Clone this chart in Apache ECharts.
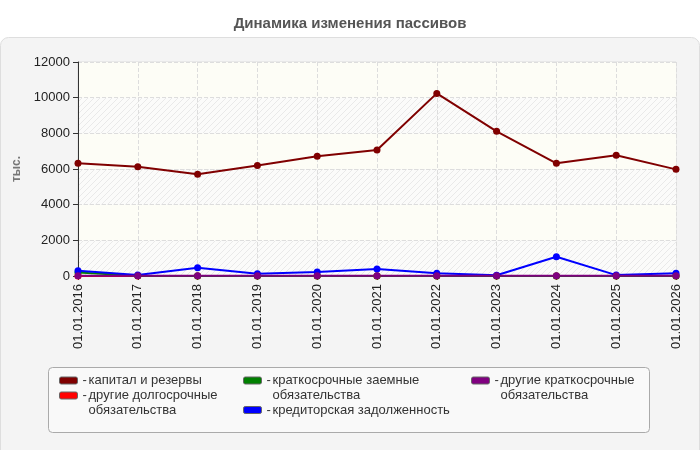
<!DOCTYPE html>
<html>
<head>
<meta charset="utf-8">
<script src="https://cdn.jsdelivr.net/npm/echarts@6/dist/echarts.min.js"></script>
<style>
html, body { margin: 0; padding: 0; background: #fff; }
#chart { width: 700px; height: 450px; }
</style>
</head>
<body>
<div id="chart"></div>
<script>
// values (тыс.)
var dates = ['01.01.2016', '01.01.2017', '01.01.2018', '01.01.2019', '01.01.2020', '01.01.2021',
  '01.01.2022', '01.01.2023', '01.01.2024', '01.01.2025', '01.01.2026'];
var capital    = [6320, 6130, 5700, 6200, 6710, 7060, 10240, 8110, 6320, 6770, 5980];
var otherLong  = [0, 0, 0, 0, 0, 0, 0, 0, 0, 0, 0];
var shortLoans = [190, 20, 0, 0, 0, 0, 0, 0, 0, 0, 0];
var payables   = [300, 60, 460, 120, 230, 390, 150, 40, 1080, 50, 150];
var otherShort = [20, 20, 20, 20, 20, 20, 20, 20, 20, 20, 20];
var yMin = 0, yMax = 12000, yStep = 2000;

var names = ['капитал и резервы', 'другие долгосрочные обязательства', 'краткосрочные заемные обязательства',
  'кредиторская задолженность', 'другие краткосрочные обязательства'];
var colors = ['#800000', '#ff0000', '#008000', '#0000ff', '#800080'];
var values = [capital, otherLong, shortLoans, payables, otherShort];
// how the legend text wraps
var wraps = {
  'другие долгосрочные обязательства': ['другие долгосрочные', 'обязательства'],
  'краткосрочные заемные обязательства': ['краткосрочные заемные', 'обязательства'],
  'другие краткосрочные обязательства': ['другие краткосрочные', 'обязательства']
};

var FONT = '"Liberation Sans", Arial, sans-serif';

// hatched band for the plot background
function hatch() {
  var c = document.createElement('canvas');
  c.width = 6; c.height = 6;
  var g = c.getContext('2d');
  g.fillStyle = '#fbfbfa';
  g.fillRect(0, 0, 6, 6);
  g.strokeStyle = '#e9e9e9';
  g.lineWidth = 1;
  g.beginPath();
  g.moveTo(-1, 7); g.lineTo(7, -1);
  g.moveTo(-1, 1); g.lineTo(1, -1);
  g.moveTo(5, 7); g.lineTo(7, 5);
  g.stroke();
  return { image: c, repeat: 'repeat' };
}

var richText = {
  d: { fontSize: 13, fontFamily: FONT, color: '#333', lineHeight: 15, width: 6 },
  t: { fontSize: 13, fontFamily: FONT, color: '#333', lineHeight: 15 }
};

function legendItem(name, left, top) {
  var two = !!wraps[name];
  return {
    data: [name],
    left: left, top: top,
    padding: 0,
    itemWidth: 18, itemHeight: 7,
    icon: 'roundRect',
    itemStyle: { borderColor: '#666', borderWidth: 1 },
    selectedMode: false,
    textStyle: { fontSize: 13, fontFamily: FONT, color: '#333', padding: two ? [15, 0, 0, 0] : 0, rich: richText },
    formatter: function (n) {
      if (!wraps[n]) return '{d|-}{t|' + n + '}';
      return '{d|-}{t|' + wraps[n][0] + '}\n{d| }{t|' + wraps[n][1] + '}';
    }
  };
}

var chart = echarts.init(document.getElementById('chart'));
chart.setOption({
  animation: false,
  title: {
    text: 'Динамика изменения пассивов',
    left: 'center', top: 11,
    textStyle: { fontSize: 15, fontWeight: 'bold', color: '#555', fontFamily: FONT }
  },
  graphic: [
    { type: 'rect', z: -10, silent: true,
      shape: { x: 0.5, y: 37.5, width: 699, height: 430, r: 8 },
      style: { fill: '#f4f4f4', stroke: '#dedede', lineWidth: 1 } },
    { type: 'rect', z: -5, silent: true,
      shape: { x: 48.5, y: 367.5, width: 601, height: 65, r: 4 },
      style: { fill: '#f9f9f9', stroke: '#aaa', lineWidth: 1 } }
  ],
  legend: [
    legendItem(names[0], 59, 374),
    legendItem(names[1], 59, 389),
    legendItem(names[2], 243, 374),
    legendItem(names[3], 243, 403.5),
    legendItem(names[4], 471, 374)
  ],
  grid: {
    left: 78, right: 24, top: 62, bottom: 174,
    show: true, backgroundColor: '#fff', borderColor: '#ddd', borderWidth: 1
  },
  xAxis: {
    type: 'category',
    data: dates,
    boundaryGap: false,
    axisLine: { lineStyle: { color: '#333' } },
    axisTick: { length: 4, lineStyle: { color: '#333' } },
    axisLabel: { rotate: 90, margin: 8, fontSize: 13, color: '#222', fontFamily: FONT, interval: 0 },
    splitLine: { show: true, lineStyle: { type: 'dashed', color: '#ddd' } }
  },
  yAxis: {
    type: 'value',
    min: yMin, max: yMax, interval: yStep,
    name: 'тыс.',
    nameLocation: 'middle', nameGap: 43, nameRotate: 90,
    nameTextStyle: { color: '#777', fontWeight: 'bold', fontSize: 12, fontFamily: FONT },
    axisLine: { show: true, lineStyle: { color: '#333' } },
    axisTick: { show: true, length: 5, lineStyle: { color: '#333' } },
    axisLabel: { margin: 8, fontSize: 13, color: '#222', fontFamily: FONT,
      formatter: function (v) { return String(v); } },
    splitLine: { show: true, lineStyle: { type: 'dashed', color: '#ddd' } },
    splitArea: { show: true, areaStyle: { color: [hatch(), '#fdfdf6'] } }
  },
  series: names.map(function (n, i) {
    return {
      name: n,
      type: 'line',
      data: values[i],
      color: colors[i],
      symbol: 'circle',
      symbolSize: 7,
      lineStyle: { width: 2 },
      itemStyle: { color: colors[i] }
    };
  })
});
</script>
</body>
</html>
